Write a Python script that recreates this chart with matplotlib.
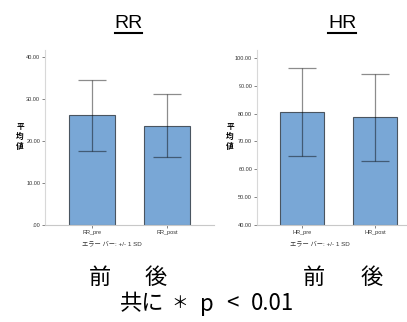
import numpy as np
import matplotlib.pyplot as plt
from matplotlib.lines import Line2D

plt.rcParams['font.family'] = ['Liberation Sans', 'Noto Sans CJK JP', 'DejaVu Sans']

# values
rr_labels = ['RR_pre', 'RR_post']
rr_mean = [26.1, 23.7]
rr_sd = [8.4, 7.5]

hr_labels = ['HR_pre', 'HR_post']
hr_mean = [80.6, 78.6]
hr_sd = [15.8, 15.6]

rr_ticks = [0, 10, 20, 30, 40]
rr_ticklabels = ['.00', '10.00', '20.00', '30.00', '40.00']
hr_ticks = [40, 50, 60, 70, 80, 90, 100]
hr_ticklabels = ['40.00', '50.00', '60.00', '70.00', '80.00', '90.00', '100.00']

W, H = 407, 322
fig = plt.figure(figsize=(W / 100, H / 100), dpi=100)

bar_color = '#79a7d6'
edge_color = '#4a5560'


def panel(rect, labels, mean, sd, ticks, ticklabels, ylim, xlim, width):
    ax = fig.add_axes(rect)
    x = np.arange(len(labels))
    ax.bar(x, np.array(mean) - ylim[0], bottom=ylim[0], width=width,
           color=bar_color, edgecolor=edge_color, linewidth=0.8, zorder=2)
    ax.errorbar(x, mean, yerr=sd, fmt='none', ecolor='black', alpha=0.45,
                elinewidth=0.9, capsize=10, capthick=0.9, zorder=3)
    ax.set_ylim(*ylim)
    ax.set_xlim(*xlim)
    ax.set_yticks(ticks)
    ax.set_yticklabels(ticklabels)
    ax.set_xticks(x)
    ax.set_xticklabels(labels)
    for s in ['top', 'right']:
        ax.spines[s].set_visible(False)
    ax.spines['left'].set_color('#d8d8d8')
    ax.spines['bottom'].set_color('#c8c8c8')
    ax.spines['left'].set_linewidth(0.8)
    ax.spines['bottom'].set_linewidth(0.8)
    ax.tick_params(axis='both', labelsize=4, length=2.5, width=0.5,
                   color='#555555', pad=1, labelcolor='#333333')
    return ax


panel([45 / W, 1 - 225 / H, 169 / W, 175 / H], rr_labels, rr_mean, rr_sd,
      rr_ticks, rr_ticklabels, (0, 41.7), (-0.627, 1.627), 0.613)
panel([257 / W, 1 - 225 / H, 150 / W, 175 / H], hr_labels, hr_mean, hr_sd,
      hr_ticks, hr_ticklabels, (40, 102.8), (-0.616, 1.438), 0.60)

# titles with underline
fig.text(128.5 / W, 1 - 23.5 / H, 'RR', fontsize=14, ha='center', va='center')
fig.text(342 / W, 1 - 23.5 / H, 'HR', fontsize=14, ha='center', va='center')
fig.add_artist(Line2D([115 / W, 142 / W], [1 - 32.5 / H, 1 - 32.5 / H], color='black', lw=1.5))
fig.add_artist(Line2D([328 / W, 356 / W], [1 - 32.5 / H, 1 - 32.5 / H], color='black', lw=1.5))

# y labels, one character per line
for xp in [20, 230]:
    for ch, yp in zip('平均値', [127, 136.5, 146]):
        fig.text(xp / W, 1 - yp / H, ch, fontsize=5.5, ha='center', va='center',
                 fontweight='bold', family=['Noto Sans CJK JP'])

# footnotes
for xp in [112, 320]:
    fig.text(xp / W, 1 - 243 / H, 'エラー バー: +/- 1 SD', fontsize=4.5, ha='center',
             va='center', color='#333333')

for xp in [100, 314]:
    fig.text(xp / W, 1 - 277 / H, '前', fontsize=16, ha='center', va='center',
             family=['Noto Sans CJK JP'])
for xp in [156, 372]:
    fig.text(xp / W, 1 - 277 / H, '後', fontsize=16, ha='center', va='center',
             family=['Noto Sans CJK JP'])

# significance note, pieces spread out as in the original
note = [('共に', 142, 16), ('＊', 180, 12), ('p', 207, 16), ('<', 232, 16), ('0.01', 273, 16)]
for s, xp, fs in note:
    fig.text(xp / W, 1 - 304 / H, s, fontsize=fs, ha='center', va='center',
             family=['Noto Sans CJK JP', 'DejaVu Sans'])

fig.savefig('out.png', dpi=100)
